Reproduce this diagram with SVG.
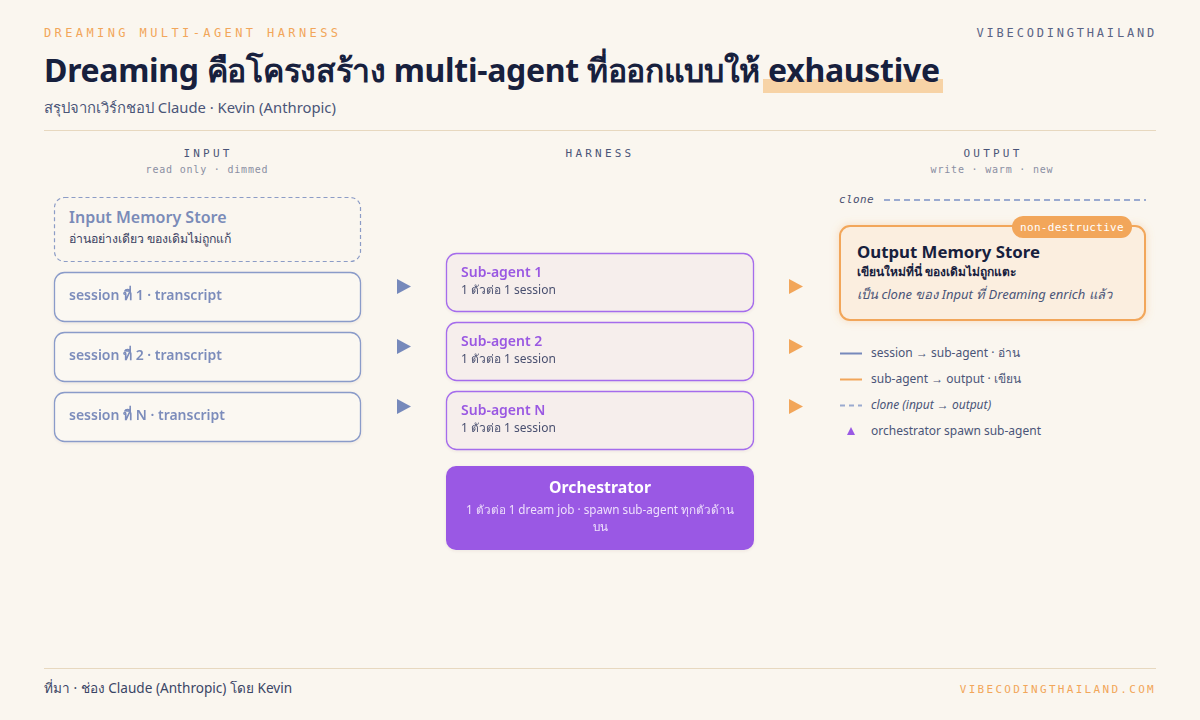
<svg xmlns="http://www.w3.org/2000/svg" width="1200" height="720" viewBox="0 0 1200 720">
<defs>
<style>
.sans{font-family:"Noto Sans","Open Sans","DejaVu Sans",sans-serif}
.mono{font-family:"DejaVu Sans Mono","Liberation Mono",monospace}
.colh{font-family:"DejaVu Sans Mono","Liberation Mono",monospace;font-size:11px;letter-spacing:3.2px;fill:#4A5578;text-anchor:middle}
.cols{font-family:"DejaVu Sans Mono","Liberation Mono",monospace;font-size:10px;letter-spacing:0.8px;fill:#8A8FA3;text-anchor:middle}
.sess{fill:#FBF8F2;stroke:#8A9BC9;stroke-width:1.3}
.sesst{font-family:"Noto Sans","Open Sans",sans-serif;font-size:14px;font-weight:600;fill:#7B8CBB}
.sub{fill:#F6EEEC;stroke:#A56CEC;stroke-width:1.3}
.subt{font-family:"Noto Sans","Open Sans",sans-serif;font-size:14px;font-weight:600;fill:#9A58E2}
.subs{font-family:"Noto Sans","Open Sans",sans-serif;font-size:12px;fill:#4A5070}
.lg{font-family:"Noto Sans","Open Sans",sans-serif;font-size:12px;fill:#4A5578}
.ab{fill:#7689BB}
.ao{fill:#F2A65A}
</style>
<filter id="sh" x="-10%" y="-20%" width="120%" height="140%">
<feDropShadow dx="0" dy="1" stdDeviation="1.5" flood-color="#5A4A30" flood-opacity="0.08"/>
</filter>
<filter id="glow" x="-10%" y="-20%" width="120%" height="140%">
<feDropShadow dx="0" dy="0" stdDeviation="4" flood-color="#F2A65A" flood-opacity="0.35"/>
</filter>
</defs>
<rect width="1200" height="720" fill="#FAF6EF"/>

<g id="header">
<text x="44" y="37" class="mono" font-size="12" letter-spacing="3.4" fill="#F2A65A">DREAMING MULTI-AGENT HARNESS</text>
<text x="1157" y="37" class="mono" font-size="12" letter-spacing="2.8" fill="#5A6485" text-anchor="end">VIBECODINGTHAILAND</text>
<rect x="763" y="79" width="180" height="14" fill="#F7D3A6"/>
<text x="44" y="82" class="sans" font-size="32" font-weight="700" fill="#17203D" textLength="896" lengthAdjust="spacing">Dreaming คือโครงสร้าง multi-agent ที่ออกแบบให้ exhaustive</text>
<text x="44" y="113" class="sans" font-size="14.8" fill="#4A5578">สรุปจากเวิร์กชอป Claude · Kevin (Anthropic)</text>
<line x1="44" y1="130.5" x2="1156" y2="130.5" stroke="#E7D8BF" stroke-width="1"/>
</g>

<g id="column-headers">
<text x="208" y="157" class="colh">INPUT</text>
<text x="207" y="173" class="cols">read only · dimmed</text>
<text x="600" y="157" class="colh">HARNESS</text>
<text x="993" y="157" class="colh">OUTPUT</text>
<text x="992" y="173" class="cols">write · warm · new</text>
</g>

<g id="input-memory-store">
<rect x="54.5" y="197.5" width="306" height="64" rx="10" fill="#FAF6EF" stroke="#8C9CC6" stroke-width="1.2" stroke-dasharray="4 3"/>
<text x="69" y="223" class="sans" font-size="16" font-weight="600" fill="#7A8BB8">Input Memory Store</text>
<text x="69" y="243" class="sans" font-size="12.3" fill="#3A4262">อ่านอย่างเดียว ของเดิมไม่ถูกแก้</text>
</g>

<g id="session-1" filter="url(#sh)">
<rect x="54.5" y="272.5" width="306" height="49" rx="10" class="sess"/>
<text x="69" y="300" class="sesst">session ที่ 1 · transcript</text>
</g>
<g id="session-2" filter="url(#sh)">
<rect x="54.5" y="332.5" width="306" height="49" rx="10" class="sess"/>
<text x="69" y="360" class="sesst">session ที่ 2 · transcript</text>
</g>
<g id="session-N" filter="url(#sh)">
<rect x="54.5" y="392.5" width="306" height="49" rx="10" class="sess"/>
<text x="69" y="420" class="sesst">session ที่ N · transcript</text>
</g>

<g id="connectors">
<polygon class="ab" points="397,279 411,286.5 397,294"/>
<polygon class="ab" points="397,339 411,346.5 397,354"/>
<polygon class="ab" points="397,399 411,406.5 397,414"/>
<polygon class="ao" points="789,279 803,286.5 789,294"/>
<polygon class="ao" points="789,339 803,346.5 789,354"/>
<polygon class="ao" points="789,399 803,406.5 789,414"/>
<text x="839" y="203" class="mono" font-size="11" font-style="italic" letter-spacing="0.4" fill="#4A5070">clone</text>
<line x1="884" y1="200" x2="1146" y2="200" stroke="#9AAAD0" stroke-width="2" stroke-dasharray="6 4"/>
</g>

<g id="sub-agent-1" filter="url(#sh)">
<rect x="446.5" y="253.5" width="307" height="58" rx="10" class="sub"/>
<text x="461" y="277" class="subt">Sub-agent 1</text>
<text x="461" y="294" class="subs">1 ตัวต่อ 1 session</text>
</g>
<g id="sub-agent-2" filter="url(#sh)">
<rect x="446.5" y="322.5" width="307" height="58" rx="10" class="sub"/>
<text x="461" y="346" class="subt">Sub-agent 2</text>
<text x="461" y="363" class="subs">1 ตัวต่อ 1 session</text>
</g>
<g id="sub-agent-N" filter="url(#sh)">
<rect x="446.5" y="391.5" width="307" height="58" rx="10" class="sub"/>
<text x="461" y="415" class="subt">Sub-agent N</text>
<text x="461" y="432" class="subs">1 ตัวต่อ 1 session</text>
</g>

<g id="orchestrator" filter="url(#sh)">
<rect x="446" y="466" width="308" height="84" rx="10" fill="#9A59E4"/>
<text x="600" y="493" class="sans" font-size="15.8" font-weight="700" fill="#FFFFFF" text-anchor="middle">Orchestrator</text>
<text x="600" y="514" class="sans" font-size="11.7" fill="#EEDFFC" text-anchor="middle">1 ตัวต่อ 1 dream job · spawn sub-agent ทุกตัวด้าน</text>
<text x="600" y="531" class="sans" font-size="11.7" fill="#EEDFFC" text-anchor="middle">บน</text>
</g>

<g id="output-memory-store">
<rect x="840" y="226" width="305" height="94" rx="10" fill="#FBEEDF" stroke="#F2A65A" stroke-width="2" filter="url(#glow)"/>
<text x="857" y="258" class="sans" font-size="16.8" font-weight="700" fill="#17203D">Output Memory Store</text>
<text x="857" y="276" class="sans" font-size="12" font-weight="700" fill="#17203D">เขียนใหม่ที่นี่ ของเดิมไม่ถูกแตะ</text>
<text x="857" y="299" class="sans" font-size="13" font-style="italic" fill="#4A5578">เป็น clone ของ Input ที่ Dreaming enrich แล้ว</text>
<rect x="1012" y="216" width="120" height="22" rx="11" fill="#F2A65A"/>
<text x="1072" y="231" class="mono" font-size="11" letter-spacing="0.3" fill="#FFFFFF" text-anchor="middle">non-destructive</text>
</g>

<g id="legend">
<line x1="840" y1="353.5" x2="862" y2="353.5" stroke="#7689BB" stroke-width="2"/>
<text x="871" y="357" class="lg">session → sub-agent · อ่าน</text>
<line x1="840" y1="379.5" x2="862" y2="379.5" stroke="#F2A65A" stroke-width="2"/>
<text x="871" y="383" class="lg">sub-agent → output · เขียน</text>
<line x1="840" y1="405.5" x2="862" y2="405.5" stroke="#9AAAD0" stroke-width="2" stroke-dasharray="5 4"/>
<text x="871" y="409" class="lg" font-style="italic">clone (input → output)</text>
<polygon points="851,427 855,435 847,435" fill="#9A59E4"/>
<text x="871" y="435" class="lg">orchestrator spawn sub-agent</text>
</g>

<g id="footer">
<line x1="44" y1="668.5" x2="1156" y2="668.5" stroke="#E7D8BF" stroke-width="1"/>
<text x="44" y="693" class="sans" font-size="13.6" fill="#3A4565">ที่มา · ช่อง Claude (Anthropic) โดย Kevin</text>
<text x="1156" y="693" class="mono" font-size="11" letter-spacing="2.3" fill="#F2A65A" text-anchor="end">VIBECODINGTHAILAND.COM</text>
</g>
</svg>
